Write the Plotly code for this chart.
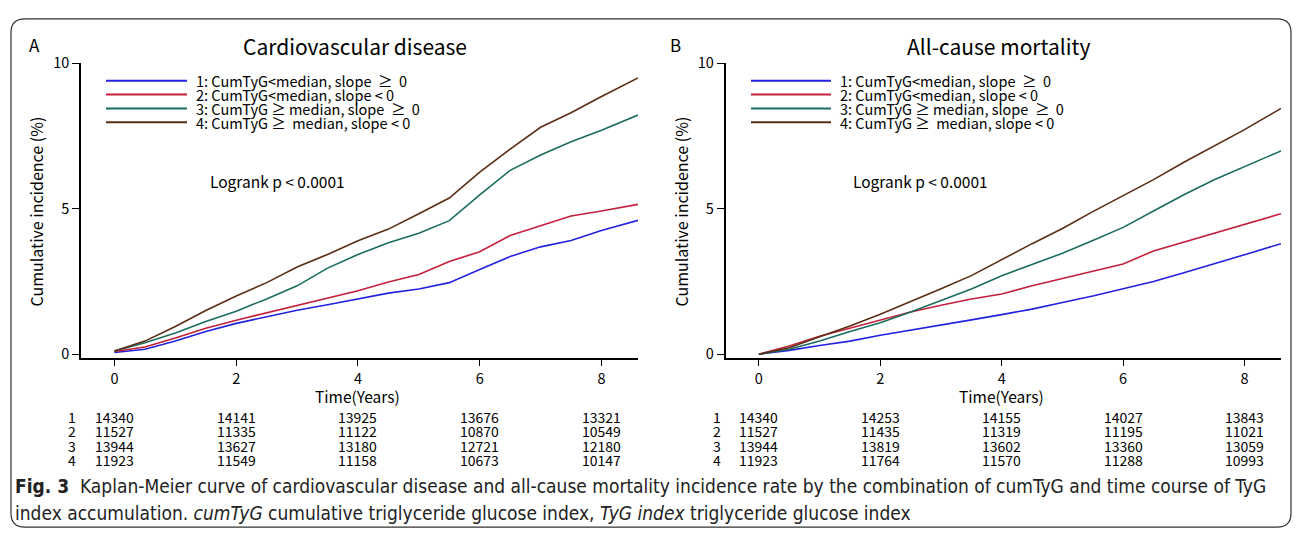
import plotly.graph_objects as go

W, H = 1296, 536

# ---------------- data ----------------
group_labels = ["1", "2", "3", "4"]
legend_labels = [
    "1: CumTyG&lt;median, slope  ≥  0",
    "2: CumTyG&lt;median, slope &lt; 0",
    "3: CumTyG ≥ median, slope  ≥  0",
    "4: CumTyG ≥  median, slope &lt; 0",
]
years = [0, 0.5, 1, 1.5, 2, 2.5, 3, 3.5, 4, 4.5, 5, 5.5, 6, 6.5, 7, 7.5, 8, 8.6]

# Panel A: cardiovascular disease, cumulative incidence (%)
cvd_g1 = [0.06, 0.17, 0.45, 0.78, 1.06, 1.29, 1.51, 1.70, 1.90, 2.10, 2.24, 2.46, 2.91, 3.36, 3.69, 3.91, 4.25, 4.60]
cvd_g2 = [0.09, 0.25, 0.56, 0.89, 1.17, 1.42, 1.68, 1.92, 2.18, 2.48, 2.74, 3.19, 3.52, 4.08, 4.42, 4.75, 4.92, 5.15]
cvd_g3 = [0.11, 0.39, 0.73, 1.12, 1.48, 1.90, 2.35, 2.96, 3.43, 3.83, 4.16, 4.59, 5.48, 6.32, 6.85, 7.30, 7.70, 8.22]
cvd_g4 = [0.11, 0.45, 0.95, 1.50, 2.00, 2.46, 3.00, 3.43, 3.90, 4.30, 4.83, 5.37, 6.26, 7.05, 7.80, 8.30, 8.86, 9.50]

# Panel B: all-cause mortality, cumulative incidence (%)
acm_g1 = [0.00, 0.13, 0.30, 0.45, 0.65, 0.82, 1.00, 1.18, 1.36, 1.55, 1.78, 2.00, 2.25, 2.50, 2.80, 3.10, 3.42, 3.80]
acm_g2 = [0.00, 0.28, 0.62, 0.89, 1.17, 1.45, 1.68, 1.90, 2.07, 2.35, 2.60, 2.85, 3.10, 3.55, 3.85, 4.15, 4.45, 4.83]
acm_g3 = [0.00, 0.17, 0.45, 0.78, 1.08, 1.45, 1.85, 2.24, 2.70, 3.08, 3.47, 3.91, 4.36, 4.92, 5.48, 6.00, 6.45, 6.99]
acm_g4 = [0.00, 0.22, 0.60, 0.97, 1.37, 1.80, 2.25, 2.70, 3.25, 3.80, 4.32, 4.90, 5.45, 6.00, 6.60, 7.15, 7.72, 8.45]

risk_times = [0, 2, 4, 6, 8]
risk_cvd = [
    [14340, 14141, 13925, 13676, 13321],
    [11527, 11335, 11122, 10870, 10549],
    [13944, 13627, 13180, 12721, 12180],
    [11923, 11549, 11158, 10673, 10147],
]
risk_acm = [
    [14340, 14253, 14155, 14027, 13843],
    [11527, 11435, 11319, 11195, 11021],
    [13944, 13819, 13602, 13360, 13059],
    [11923, 11764, 11570, 11288, 10993],
]

x_ticks = [0, 2, 4, 6, 8]
y_ticks = [0, 5, 10]
titles = ["Cardiovascular disease", "All-cause mortality"]
panel_letters = ["A", "B"]
logrank_text = "Logrank p &lt; 0.0001"
caption_1 = ("<b>Fig. 3</b>  Kaplan-Meier curve of cardiovascular disease and all-cause mortality "
             "incidence rate by the combination of cumTyG and time course of TyG")
caption_2 = ("index accumulation. <i>cumTyG</i> cumulative triglyceride glucose index, "
             "<i>TyG index</i> triglyceride glucose index")

# ---------------- style ----------------
colors = ["#2222e0", "#c4203a", "#1a6c5e", "#5a2d14"]
FONT = "Noto Sans CJK KR, Noto Sans, sans-serif"
CAPFONT = "Liberation Sans Narrow, DejaVu Sans Condensed, Roboto Condensed, sans-serif"


def px(x):
    return x / W


def py(y):
    return 1 - y / H


# pixel geometry of the two panels
panels = [
    dict(x0=81, x1=638),
    dict(x0=725.5, x1=1281),
]
y_top, y_bot = 53, 357

fig = go.Figure()
series = [[cvd_g1, cvd_g2, cvd_g3, cvd_g4], [acm_g1, acm_g2, acm_g3, acm_g4]]
for p in range(2):
    xa = "x" if p == 0 else "x2"
    ya = "y" if p == 0 else "y2"
    for g in range(4):
        fig.add_trace(go.Scatter(
            x=years, y=series[p][g], mode="lines", xaxis=xa, yaxis=ya,
            line=dict(color=colors[g], width=1.6), showlegend=False,
            hoverinfo="skip"))

axis_common_x = dict(range=[-0.55, 8.6], tickvals=x_ticks, ticks="outside", ticklen=7,
                     tickwidth=1.3, tickcolor="black", showline=True, linecolor="black",
                     linewidth=1.6, showgrid=False, zeroline=False,
                     tickfont=dict(family=FONT, size=14.5, color="black"))
axis_common_y = dict(range=[-0.12, 10], tickvals=y_ticks, ticks="outside", ticklen=7,
                     tickwidth=1.3, tickcolor="black", showline=True, linecolor="black",
                     linewidth=1.6, showgrid=False, zeroline=False,
                     tickfont=dict(family=FONT, size=14.5, color="black"))

fig.update_layout(
    width=W, height=H, margin=dict(l=0, r=0, t=0, b=0),
    paper_bgcolor="white", plot_bgcolor="white", showlegend=False,
    xaxis=dict(domain=[px(panels[0]["x0"]), px(panels[0]["x1"])], anchor="y", **axis_common_x),
    yaxis=dict(domain=[py(y_bot), py(y_top)], anchor="x", **axis_common_y),
    xaxis2=dict(domain=[px(panels[1]["x0"]), px(panels[1]["x1"])], anchor="y2", **axis_common_x),
    yaxis2=dict(domain=[py(y_bot), py(y_top)], anchor="x2", **axis_common_y),
)

ann = []
shapes = []

# frame with rounded corners
fx0, fy0, fx1, fy1, r = 11, 7, 1291, 532, 14
path = (f"M {px(fx0 + r)},{py(fy0)} L {px(fx1 - r)},{py(fy0)} Q {px(fx1)},{py(fy0)} {px(fx1)},{py(fy0 + r)} "
        f"L {px(fx1)},{py(fy1 - r)} Q {px(fx1)},{py(fy1)} {px(fx1 - r)},{py(fy1)} "
        f"L {px(fx0 + r)},{py(fy1)} Q {px(fx0)},{py(fy1)} {px(fx0)},{py(fy1 - r)} "
        f"L {px(fx0)},{py(fy0 + r)} Q {px(fx0)},{py(fy0)} {px(fx0 + r)},{py(fy0)} Z")
shapes.append(dict(type="path", xref="paper", yref="paper", path=path,
                   line=dict(color="#333333", width=1.2)))

title_cx = [355, 998]
logrank_x = [208, 851]
legend_line = [(106, 187, 194), (751, 831, 838)]
risk_label_x = [72, 717]
ylab_x = [36, 681]
letter_x = [34, 675]

risks = [risk_cvd, risk_acm]
for p in range(2):
    xref = "x" if p == 0 else "x2"
    ann.append(dict(text=panel_letters[p], x=px(letter_x[p]), y=py(34), xref="paper", yref="paper",
                    xanchor="center", yanchor="middle", showarrow=False,
                    font=dict(family=FONT, size=17, color="black")))
    ann.append(dict(text=titles[p], x=px(title_cx[p]), y=py(35), xref="paper", yref="paper",
                    xanchor="center", yanchor="middle", showarrow=False,
                    font=dict(family=FONT, size=21, color="black")))
    ann.append(dict(text="Time(Years)", x=4, y=py(397), xref=xref, yref="paper",
                    xanchor="center", yanchor="middle", showarrow=False,
                    font=dict(family=FONT, size=15.5, color="black")))
    ann.append(dict(text="Cumulative incidence (%)", x=px(ylab_x[p]), y=py(206), xref="paper", yref="paper",
                    xanchor="center", yanchor="middle", showarrow=False, textangle=-90,
                    font=dict(family=FONT, size=16, color="black")))
    lx0, lx1, tx = legend_line[p]
    for g in range(4):
        yy = 71 + g * 14.3
        shapes.append(dict(type="line", xref="paper", yref="paper",
                           x0=px(lx0), x1=px(lx1), y0=py(yy), y1=py(yy),
                           line=dict(color=colors[g], width=2)))
        ann.append(dict(text=legend_labels[g], x=px(tx), y=py(yy), xref="paper", yref="paper",
                        xanchor="left", yanchor="middle", showarrow=False,
                        font=dict(family=FONT, size=14.5, color="black")))
    ann.append(dict(text=logrank_text, x=px(logrank_x[p]), y=py(175), xref="paper", yref="paper",
                    xanchor="left", yanchor="middle", showarrow=False,
                    font=dict(family=FONT, size=15.5, color="black")))
    for g in range(4):
        yy = 418 + g * 15
        ann.append(dict(text=group_labels[g], x=px(risk_label_x[p]), y=py(yy), xref="paper", yref="paper",
                        xanchor="center", yanchor="middle", showarrow=False,
                        font=dict(family=FONT, size=14, color="black")))
        for k, t in enumerate(risk_times):
            ann.append(dict(text=str(risks[p][g][k]), x=t, y=py(yy), xref=xref, yref="paper",
                            xanchor="center", yanchor="middle", showarrow=False,
                            font=dict(family=FONT, size=14, color="black")))

ann.append(dict(text=caption_1, x=px(13), y=py(490), xref="paper", yref="paper",
                xanchor="left", yanchor="middle", showarrow=False,
                font=dict(family=CAPFONT, size=19, color="#222222")))
ann.append(dict(text=caption_2, x=px(13), y=py(517), xref="paper", yref="paper",
                xanchor="left", yanchor="middle", showarrow=False,
                font=dict(family=CAPFONT, size=19, color="#222222")))

fig.update_layout(annotations=ann, shapes=shapes)
fig.write_html("out.html")
